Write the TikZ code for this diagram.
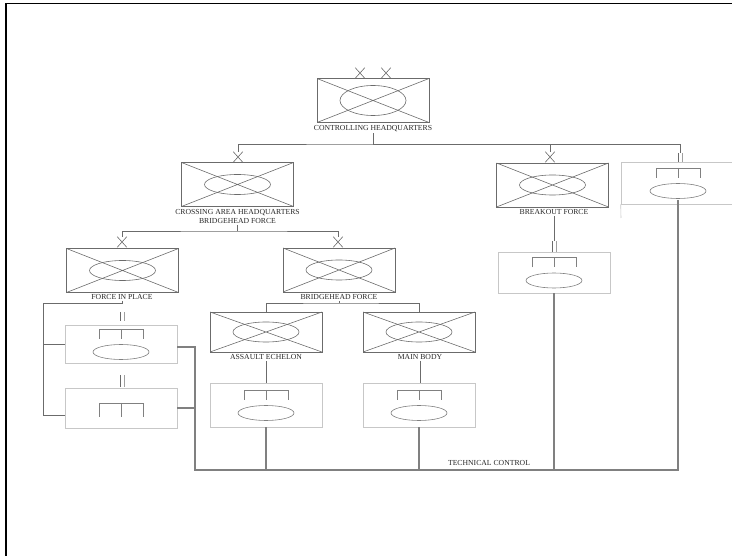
\documentclass[tikz,border=0pt]{standalone}
\usepackage{fontspec}
\setmainfont{Liberation Serif}
\usetikzlibrary{calc,shapes.misc}
\definecolor{linegray}{gray}{0.42}
\definecolor{boxgray}{gray}{0.78}
\definecolor{symgray}{gray}{0.5}
\definecolor{textgray}{gray}{0.15}
\tikzset{
  unit/.style={draw=linegray, line width=0.6pt, minimum width=112pt, minimum height=44pt, inner sep=0pt,
    path picture={
      \draw[linegray, line width=0.6pt] (path picture bounding box.north west) -- (path picture bounding box.south east)
        (path picture bounding box.south west) -- (path picture bounding box.north east);
      \draw[linegray, line width=0.6pt] (path picture bounding box.center) ellipse [x radius=33pt, y radius=#1];}},
  unit/.default=10pt,
  sub/.style={draw=boxgray, line width=0.6pt, minimum width=112pt, minimum height=42pt, inner sep=0pt},
  mech/.style={sub, path picture={
      \coordinate (c) at (path picture bounding box.center);
      \draw[symgray, line width=0.6pt] ($(c)+(-22,-5)$) -- ++(0,-10) -- ++(44,0) -- ++(0,10)
        ($(c)+(0,-15)$) -- ++(0,10);
      \draw[symgray, line width=0.6pt] ($(c)+(0,8)$) ellipse [x radius=28pt, y radius=7.5pt];}},
  inf/.style={sub, path picture={
      \coordinate (c) at (path picture bounding box.center);
      \draw[symgray, line width=0.6pt] ($(c)+(-22,9)$) -- ++(0,-14) -- ++(44,0) -- ++(0,14)
        ($(c)+(0,-5)$) -- ++(0,14);}},
  xmark/.style={cross out, draw=linegray, line width=0.6pt, minimum width=9pt, minimum height=10pt, inner sep=0pt},
  dbar/.style={minimum width=5pt, minimum height=#1, inner sep=0pt,
    path picture={
      \draw[linegray, line width=0.6pt] ($(path picture bounding box.north)+(-2,0)$) -- ($(path picture bounding box.south)+(-2,0)$)
        ($(path picture bounding box.north)+(2,0)$) -- ($(path picture bounding box.south)+(2,0)$);}},
  dbar/.default=10pt,
  lab/.style={font=\fontsize{7.7}{9}\selectfont, text=textgray, inner sep=1pt, align=center},
  link/.style={draw=linegray, line width=0.7pt},
  tc/.style={draw=gray, line width=1.6pt}
}
\begin{document}
\begin{tikzpicture}[x=1pt, y=-1pt]
    \useasboundingbox (0,0) rectangle (732,556);
    \draw[line width=1.8pt] (6,556) -- (6,3.5) -- (732,3.5);

    \node[unit=15pt] (hq) at (373,100.5) {};
    \node[lab] (hqlab) at (373,129) {CONTROLLING HEADQUARTERS};
    \foreach \x/\n in {360/hqx1,386/hqx2}
        {\node[xmark] (\n) at (\x,73) {};}

    \node[unit] (cahq) at (237.5,184.5) {};
    \node[xmark] (cahqx) at (238,157) {};
    \node[lab] (cahqlab) at (237.5,216.5) {CROSSING AREA HEADQUARTERS\\BRIDGEHEAD FORCE};

    \node[unit] (bko) at (552.5,185) {};
    \node[xmark] (bkox) at (550,157) {};
    \node[lab] (bkolab) at (554,212) {BREAKOUT FORCE};
    \node[dbar=11pt] (bkobar) at (554,246.5) {};
    \node[mech, minimum height=41pt] (bko1) at (554,272.5) {};

    \node[mech, minimum width=114pt] (spt) at (678,183) {};
    \node[dbar=9pt] (sptbar) at (680,157.5) {};
    \coordinate (sptleg) at (621,218);

    \node[unit] (fip) at (122.5,270.5) {};
    \node[xmark] (fipx) at (122,242) {};
    \node[lab] (fiplab) at (122,297) {FORCE IN PLACE};
    \node[dbar=9pt] (fipbar1) at (122,316.5) {};
    \node[mech, minimum height=38pt] (fip1) at (121,344) {};
    \node[dbar=12pt] (fipbar2) at (122,381) {};
    \node[inf, minimum height=40pt] (fip2) at (121,408) {};

    \node[unit] (bhf) at (339,270) {};
    \node[xmark] (bhfx) at (338,242) {};
    \node[lab] (bhflab) at (339,297) {BRIDGEHEAD FORCE};

    \node[unit, minimum height=40pt] (ae) at (266,332) {};
    \node[lab] (aelab) at (266,357) {ASSAULT ECHELON};
    \node[mech, minimum height=44pt] (ae1) at (266,405) {};

    \node[unit, minimum height=40pt] (mb) at (419,332) {};
    \node[lab] (mblab) at (420,357) {MAIN BODY};
    \node[mech, minimum height=44pt] (mb1) at (419,405) {};

    \node[lab] (tclab) at (489,463) {TECHNICAL CONTROL};

    \coordinate (b1) at (373,144);
    \coordinate (b2) at (237.5,231);
    \coordinate (b3) at (339,303);
    \coordinate (fl) at (43,303);
    \coordinate (tcl) at (195,470);
    \coordinate (tcr) at (678,470);

    \draw[link] (hqlab.south) -- (b1);
    \draw[link] (cahqx.north) |- (b1) -| (bkox.north);
    \draw[link] (b1) -| (sptbar.north);
    \draw[link] (cahqlab.south) -- (b2);
    \draw[link] (fipx.north) |- (b2) -| (bhfx.north);
    \draw[link] (bhflab.south) -- (b3);
    \draw[link] (ae.north) |- (b3) -| (mb.north);
    \draw[link] (bkolab.south) -- (bkobar.north);
    \draw[link] (aelab.south) -- (ae1.north);
    \draw[link] (mblab.south) -- (mblab.south |- mb1.north);
    \draw[link] (fiplab.south) |- (fl) |- ([yshift=-7pt]fip2.west);
    \draw[link] (fl |- fip1.west) -- (fip1.west);
    \draw[boxgray, line width=0.6pt] (spt.south west) -- (sptleg);

    \draw[tc] ([yshift=-3pt]fip1.east) -| (tcl) -- (tcr) -- ([yshift=-17pt]spt.center);
    \draw[tc] (fip2.east) -- (fip2.east -| tcl);
    \draw[tc] (ae1.south) -- (ae1.south |- tcl);
    \draw[tc] (mb1.south) -- (mb1.south |- tcl);
    \draw[tc] (bko1.south) -- (bko1.south |- tcl);
\end{tikzpicture}
\end{document}
